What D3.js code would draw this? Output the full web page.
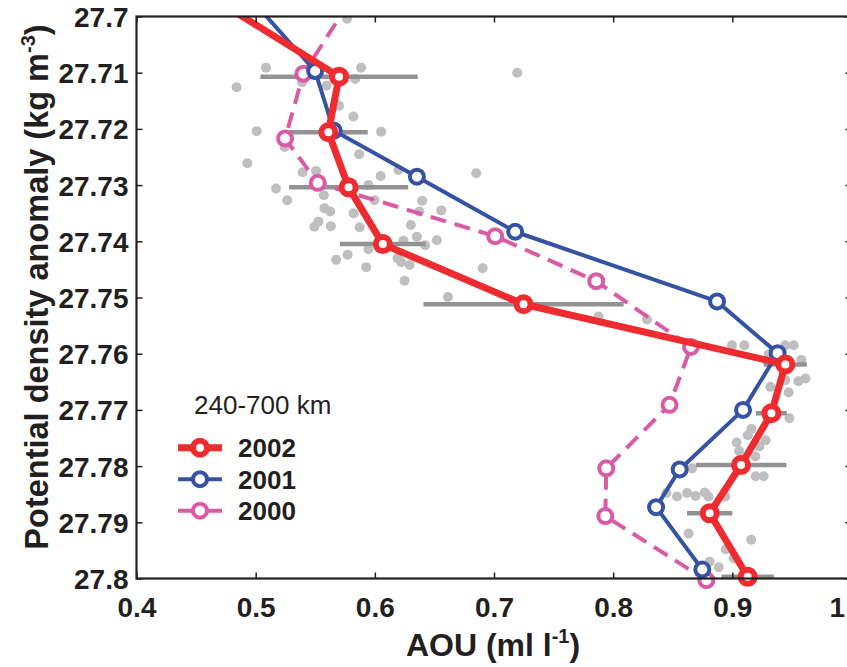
<!DOCTYPE html>
<html>
<head>
<meta charset="utf-8">
<script src="https://cdn.jsdelivr.net/npm/d3@7"></script>
<style>
  body { margin: 0; background: #fff; }
  svg { display: block; }
  text { font-family: "Liberation Sans", Arial, Helvetica, sans-serif; fill: #231f20; }
</style>
</head>
<body>
<svg id="chart" width="847" height="667"></svg>
<script>
// Potential density anomaly (kg m-3) of each profile level
const sigma2002 = [27.69, 27.7107, 27.7206, 27.7304, 27.7405, 27.7512, 27.7619, 27.7706, 27.7798, 27.7884, 27.7997];
const aou2002   = [0.413, 0.570, 0.561, 0.578, 0.6067, 0.7248, 0.9445, 0.9328, 0.9073, 0.881, 0.9129];
// spread of the 2002 samples around the mean, drawn as horizontal bars
const err2002   = [null, 0.066, 0.033, 0.050, 0.036, 0.084, 0.018, 0.013, 0.038, 0.019, 0.022];

const sigma2001 = [27.69, 27.7097, 27.7203, 27.7285, 27.7383, 27.7507, 27.7599, 27.770, 27.7806, 27.7873, 27.7984];
const aou2001   = [0.467, 0.5499, 0.5655, 0.6353, 0.7178, 0.8872, 0.938, 0.909, 0.8558, 0.836, 0.8748];

const sigma2000 = [27.69, 27.7102, 27.7217, 27.7296, 27.7391, 27.7471, 27.7588, 27.7691, 27.7804, 27.7889, 27.8003];
const aou2000   = [0.601, 0.540, 0.5247, 0.5521, 0.701, 0.7858, 0.8653, 0.8473, 0.7942, 0.7934, 0.8782];

// individual 2002 samples
const sampleAou = [0.5767,0.5087,0.5885,0.7195,0.4840,0.5390,0.5595,0.5835,0.5700,0.5820,
  0.5008,0.6053,0.5243,0.5868,0.4930,0.5394,0.5507,0.6049,0.6198,0.6851,
  0.5171,0.5946,0.5264,0.5572,0.5997,0.6397,0.6557,0.5577,0.5625,0.5822,
  0.5526,0.5493,0.5631,0.5872,0.6374,0.6302,0.6353,0.6240,0.6521,0.6422,
  0.5946,0.5772,0.5675,0.5927,0.6191,0.6221,0.6292,0.6249,0.6613,0.6905,
  0.7877,0.8284,0.8997,0.9101,0.9445,0.9515,0.9305,0.9579,0.9291,0.9319,
  0.9445,0.9554,0.9613,0.9473,0.9479,0.9160,0.9130,0.9280,0.9036,0.9057,
  0.9227,0.9193,0.8662,0.9196,0.9263,0.8446,0.8536,0.8620,0.8692,0.8769,
  0.8799,0.8941,0.8633,0.9158,0.8945,0.9011,0.8809,0.8885];
const sampleSigma = [27.7004,27.7091,27.7091,27.7100,27.7126,27.7117,27.7123,27.7111,27.7159,27.7178,
  27.7204,27.7205,27.7232,27.7245,27.7261,27.7277,27.7275,27.7284,27.7273,27.7279,
  27.7306,27.7300,27.7327,27.7318,27.7327,27.7328,27.7345,27.7341,27.7347,27.7350,
  27.7365,27.7374,27.7373,27.7375,27.7347,27.7371,27.7392,27.7399,27.7398,27.7407,
  27.7414,27.7424,27.7433,27.7446,27.7430,27.7437,27.7442,27.7470,27.7499,27.7448,
  27.7534,27.7539,27.7585,27.7585,27.7585,27.7585,27.7601,27.7611,27.7614,27.7659,
  27.7647,27.7649,27.7644,27.7669,27.7715,27.7734,27.7745,27.7754,27.7758,27.7773,
  27.7765,27.7783,27.7804,27.7818,27.7818,27.7848,27.7854,27.7848,27.7853,27.7847,
  27.7854,27.7854,27.7920,27.7931,27.7948,27.7964,27.7970,27.7980];

const xTicks = [0.4, 0.5, 0.6, 0.7, 0.8, 0.9, 1.0];
const xTickLabels = ["0.4", "0.5", "0.6", "0.7", "0.8", "0.9", "1"];
const yTicks = [27.70, 27.71, 27.72, 27.73, 27.74, 27.75, 27.76, 27.77, 27.78, 27.79, 27.80];
const yTickLabels = ["27.7", "27.71", "27.72", "27.73", "27.74", "27.75", "27.76", "27.77", "27.78", "27.79", "27.8"];

const seriesNames = ["2002", "2001", "2000"];
const regionLabel = "240-700 km";

const COLORS = { "2002": "#ee2b2f", "2001": "#3553a5", "2000": "#da5aa6" };
const INK = "#231f20";

const svg = d3.select("#chart");
const plotL = 136.5, plotR = 851.5, plotT = 16.5, plotB = 578.5;

const x = d3.scaleLinear().domain([0.4, 1.0]).range([plotL, plotR]);
const y = d3.scaleLinear().domain([27.7, 27.8]).range([plotT, plotB]);

// clip everything above the top of the frame
svg.append("defs").append("clipPath").attr("id", "plotclip")
  .append("rect").attr("x", plotL).attr("y", plotT).attr("width", plotR - plotL).attr("height", 667 - plotT);

const plot = svg.append("g").attr("clip-path", "url(#plotclip)");

// individual samples
plot.append("g").selectAll("circle")
  .data(d3.range(sampleAou.length))
  .join("circle")
  .attr("cx", i => x(sampleAou[i]))
  .attr("cy", i => y(sampleSigma[i]))
  .attr("r", 5)
  .attr("fill", "#bfbfc1");

// spread bars
plot.append("g").selectAll("line")
  .data(d3.range(sigma2002.length).filter(i => err2002[i] != null))
  .join("line")
  .attr("x1", i => x(aou2002[i] - err2002[i]))
  .attr("x2", i => x(aou2002[i] + err2002[i]))
  .attr("y1", i => y(sigma2002[i]))
  .attr("y2", i => y(sigma2002[i]))
  .attr("stroke", "#939395")
  .attr("stroke-width", 4.5);

function drawSeries(aou, sigma, color, width, dash, mr, mw) {
  const pts = aou.map((a, i) => [a, sigma[i]]);
  const line = d3.line().x(d => x(d[0])).y(d => y(d[1]));
  plot.append("path")
    .datum(pts)
    .attr("d", line)
    .attr("fill", "none")
    .attr("stroke", color)
    .attr("stroke-width", width)
    .attr("stroke-linejoin", "round")
    .attr("stroke-dasharray", dash);
  plot.append("g").selectAll("circle")
    .data(pts)
    .join("circle")
    .attr("cx", d => x(d[0]))
    .attr("cy", d => y(d[1]))
    .attr("r", mr)
    .attr("fill", "#fff")
    .attr("stroke", color)
    .attr("stroke-width", mw);
}

drawSeries(aou2000, sigma2000, COLORS["2000"], 4, "16,9", 7, 4);
drawSeries(aou2001, sigma2001, COLORS["2001"], 4, null, 7, 4);
drawSeries(aou2002, sigma2002, COLORS["2002"], 7, null, 7, 6);

// axes with inward ticks on all four sides
const tick = 6;
const gx = svg.append("g").attr("transform", `translate(0,${plotB})`)
  .call(d3.axisBottom(x).tickValues(xTicks).tickFormat((d, i) => xTickLabels[i])
    .tickSizeInner(-tick).tickSizeOuter(0).tickPadding(0));
const gxt = svg.append("g").attr("transform", `translate(0,${plotT})`)
  .call(d3.axisTop(x).tickValues(xTicks).tickFormat("").tickSizeInner(-tick).tickSizeOuter(0));
const gy = svg.append("g").attr("transform", `translate(${plotL},0)`)
  .call(d3.axisLeft(y).tickValues(yTicks).tickFormat((d, i) => yTickLabels[i])
    .tickSizeInner(-tick).tickSizeOuter(0).tickPadding(8));
const gyr = svg.append("g").attr("transform", `translate(${plotR},0)`)
  .call(d3.axisRight(y).tickValues(yTicks).tickFormat("").tickSizeInner(-tick).tickSizeOuter(0));

[gx, gxt, gy, gyr].forEach(g => {
  g.select(".domain").remove();
  g.selectAll(".tick line").attr("stroke", INK).attr("stroke-width", 1.5);
});

gx.selectAll(".tick text")
  .attr("y", 38).attr("dy", null)
  .attr("font-size", 28).attr("font-weight", "bold").attr("fill", INK);
// the last label sits at the right edge of the canvas; pull it inward so it stays readable
gx.selectAll(".tick text").filter((d, i) => i === xTicks.length - 1)
  .attr("text-anchor", "end").attr("x", -7);
gy.selectAll(".tick text")
  .attr("dy", "0.36em")
  .attr("font-size", 28).attr("font-weight", "bold").attr("fill", INK);

// frame
svg.append("rect")
  .attr("x", plotL).attr("y", plotT).attr("width", plotR - plotL).attr("height", plotB - plotT)
  .attr("fill", "none").attr("stroke", INK).attr("stroke-width", 2.2);

// axis titles
const xt = svg.append("text").attr("x", 493).attr("y", 656)
  .attr("text-anchor", "middle").attr("font-size", 32).attr("font-weight", "bold");
xt.append("tspan").text("AOU (ml l");
xt.append("tspan").attr("font-size", 20).attr("dy", -13).text("-1");
xt.append("tspan").attr("dy", 13).text(")");

const yt = svg.append("text")
  .attr("transform", "translate(48,287) rotate(-90)")
  .attr("text-anchor", "middle").attr("font-size", 32.5).attr("font-weight", "bold");
yt.append("tspan").text("Potential density anomaly (kg m");
yt.append("tspan").attr("font-size", 20).attr("dy", -13).text("-3");
yt.append("tspan").attr("dy", 13).text(")");

// legend
svg.append("text").attr("x", 194).attr("y", 414).attr("font-size", 26).text(regionLabel);

const legendRows = [
  { name: seriesNames[0], color: COLORS["2002"], w: 7, mw: 6 },
  { name: seriesNames[1], color: COLORS["2001"], w: 4, mw: 4 },
  { name: seriesNames[2], color: COLORS["2000"], w: 4, mw: 4 }
];
const lg = svg.append("g");
legendRows.forEach((r, i) => {
  const cy = 447.7 + i * 31.5;
  lg.append("line").attr("x1", 178).attr("x2", 222).attr("y1", cy).attr("y2", cy)
    .attr("stroke", r.color).attr("stroke-width", r.w);
  lg.append("circle").attr("cx", 200).attr("cy", cy).attr("r", 7)
    .attr("fill", "#fff").attr("stroke", r.color).attr("stroke-width", r.mw);
  lg.append("text").attr("x", 238).attr("y", cy + 9.5)
    .attr("font-size", 26).attr("font-weight", "bold").text(r.name);
});
</script>
</body>
</html>
